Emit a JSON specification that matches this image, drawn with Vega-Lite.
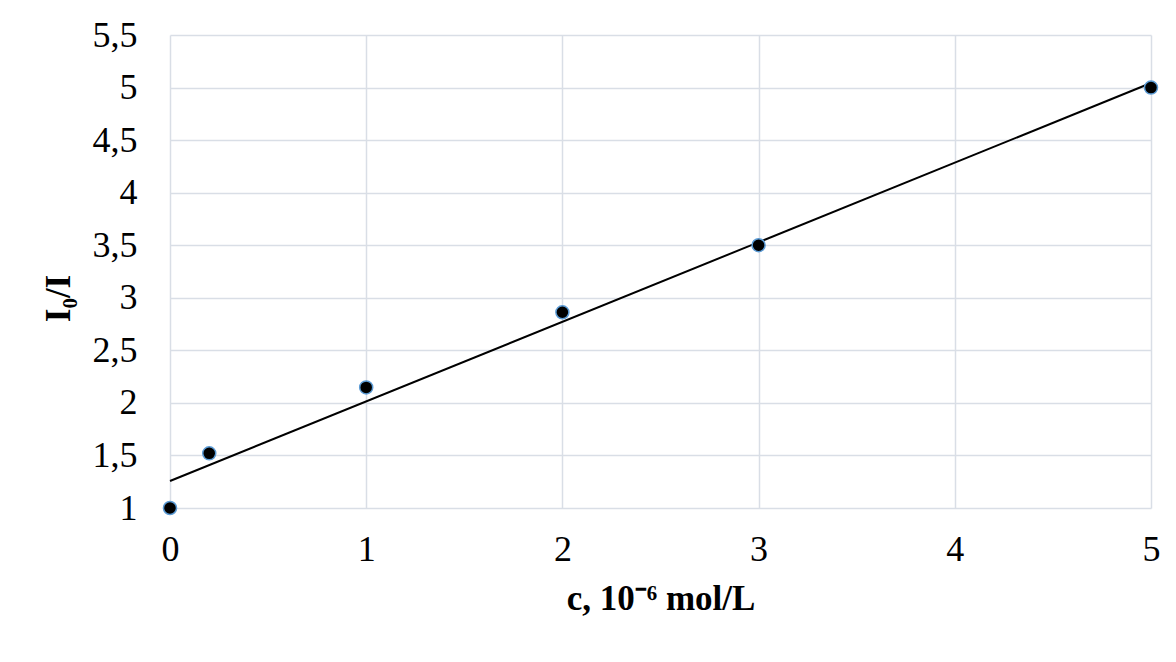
{
  "$schema": "https://vega.github.io/schema/vega-lite/v6.json",
  "autosize": {"type": "none"},
  "width": 981,
  "height": 473,
  "padding": {"left": 170, "top": 35, "right": 25, "bottom": 154},
  "background": "white",
  "datasets": {
    "points": [
      {"c": 0, "ratio": 1.0},
      {"c": 0.2, "ratio": 1.52},
      {"c": 1, "ratio": 2.147},
      {"c": 2, "ratio": 2.862},
      {"c": 3, "ratio": 3.5},
      {"c": 5, "ratio": 5.0}
    ],
    "trend": [
      {"c": 0, "ratio": 1.257},
      {"c": 5, "ratio": 5.043}
    ]
  },
  "config": {
    "view": {"stroke": null},
    "font": "Liberation Serif",
    "axis": {
      "labelFont": "Liberation Serif",
      "titleFont": "Liberation Serif",
      "labelFontSize": 36,
      "titleFontSize": 35,
      "labelColor": "#000000",
      "titleColor": "#000000",
      "gridColor": "#D9DEE6",
      "gridWidth": 1.5,
      "ticks": false,
      "domain": false
    }
  },
  "layer": [
    {
      "data": {"name": "points"},
      "mark": {"type": "point", "filled": true, "fill": "#000000", "stroke": "#5B9BD5", "strokeWidth": 1.5, "size": 170, "opacity": 0, "shape": "circle"},
      "encoding": {
        "x": {
          "field": "c", "type": "quantitative",
          "scale": {"domain": [0, 5], "nice": false, "zero": false},
          "axis": {
            "values": [0, 1, 2, 3, 4, 5],
            "format": "d",
            "labelPadding": 24,
            "labelFlush": false,
            "title": "c, 10⁻⁶ mol/L",
            "titleFontWeight": "bold",
            "titlePadding": 14
          }
        },
        "y": {
          "field": "ratio", "type": "quantitative",
          "scale": {"domain": [1, 5.5], "nice": false, "zero": false},
          "axis": {
            "values": [1, 1.5, 2, 2.5, 3, 3.5, 4, 4.5, 5, 5.5],
            "labelExpr": "replace(format(datum.value, '~g'), '.', ',')",
            "labelPadding": 33,
            "labelFlush": false,
            "title": "I₀/I",
            "titleFontWeight": "bold",
            "titlePadding": 16,
            "titleY": 263
          }
        }
      }
    },
    {
      "data": {"name": "trend"},
      "mark": {"type": "line", "color": "#000000", "strokeWidth": 2},
      "encoding": {
        "x": {"field": "c", "type": "quantitative"},
        "y": {"field": "ratio", "type": "quantitative"}
      }
    },
    {
      "data": {"name": "points"},
      "mark": {"type": "point", "filled": true, "fill": "#000000", "stroke": "#5B9BD5", "strokeWidth": 1.5, "size": 170, "opacity": 1, "shape": "circle"},
      "encoding": {
        "x": {"field": "c", "type": "quantitative"},
        "y": {"field": "ratio", "type": "quantitative"}
      }
    }
  ]
}
